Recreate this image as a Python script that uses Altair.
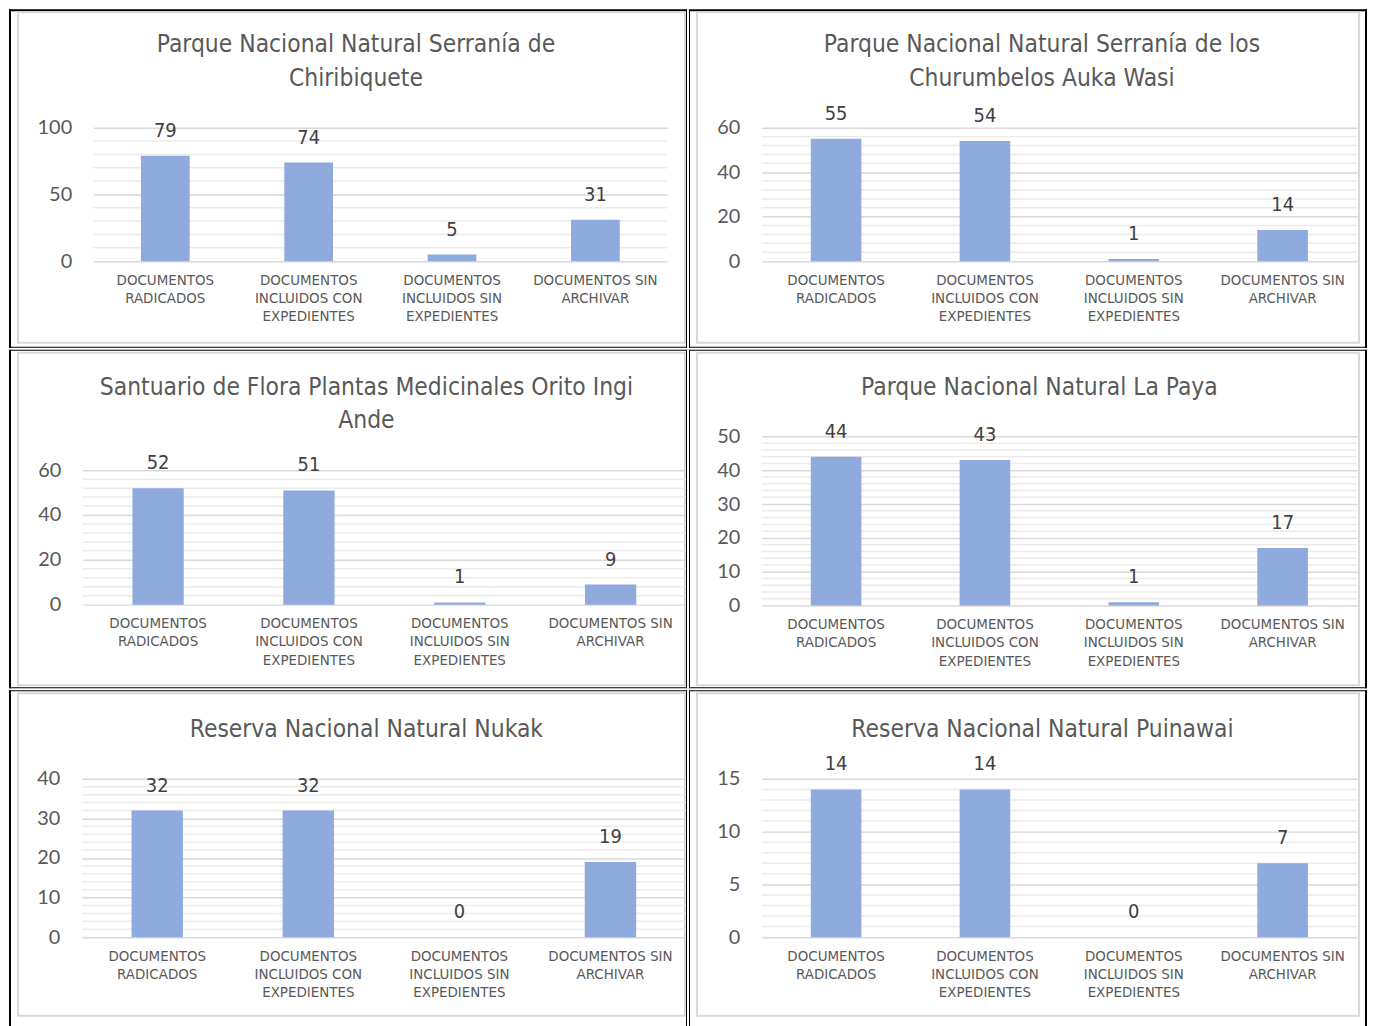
import altair as alt
import pandas as pd

# ---------------- data ----------------
categories = [
    "DOCUMENTOS|RADICADOS",
    "DOCUMENTOS|INCLUIDOS CON|EXPEDIENTES",
    "DOCUMENTOS|INCLUIDOS SIN|EXPEDIENTES",
    "DOCUMENTOS SIN|ARCHIVAR",
]

titles = [
    ["Parque Nacional Natural Serranía de", "Chiribiquete"],
    ["Parque Nacional Natural Serranía de los", "Churumbelos Auka Wasi"],
    ["Santuario de Flora Plantas Medicinales Orito Ingi", "Ande"],
    ["Parque Nacional Natural La Paya"],
    ["Reserva Nacional Natural Nukak"],
    ["Reserva Nacional Natural Puinawai"],
]

chiribiquete = [79, 74, 5, 31]
churumbelos = [55, 54, 1, 14]
orito = [52, 51, 1, 9]
la_paya = [44, 43, 1, 17]
nukak = [32, 32, 0, 19]
puinawai = [14, 14, 0, 7]
series = [chiribiquete, churumbelos, orito, la_paya, nukak, puinawai]

y_max = [100, 60, 60, 50, 40, 15]
major_step = [50, 20, 20, 10, 10, 5]
minor_step = [10, 4, 4, 2, 2, 1]

# ---------------- layout (pixels, relative to each cell) ----------------
CELL_W, CELL_H = 681, 340
plot_left = [85, 73, 74, 73, 73, 73]
plot_top = [119, 119, 121, 87, 89, 89]
plot_w = [576, 598, 606, 598, 607, 598]
plot_h = [134, 134, 135, 170, 159, 159]
title_cx = [348.5, 354.5, 359, 352, 359, 355]
title_cy = [36, 36, 38, 38, 40, 40]
grey_bottom = [335, 335, 337, 337, 327, 327]

TXT = "DejaVu Sans Condensed, DejaVu Sans, sans-serif"
NUM = "Lato, Open Sans, sans-serif"
BAR = "#8FAADC"

one_row = alt.Data(values=[{"k": 0}])


def block(x0, x1, y0, y1, color="black"):
    return alt.Chart(one_row).mark_rect(color=color).encode(
        x=alt.value(x0), x2=alt.value(x1), y=alt.value(y0), y2=alt.value(y1)
    )


def panel(i):
    col = i % 2
    row = i // 2
    L, T, W, H = plot_left[i], plot_top[i], plot_w[i], plot_h[i]
    df = pd.DataFrame({"cat": categories, "value": series[i]})
    maj = major_step[i]
    major_vals = list(range(0, y_max[i] + 1, maj))
    minor_df = pd.DataFrame({
        "value": [v for v in range(0, y_max[i] + 1, minor_step[i]) if v % maj != 0]
    })

    # table borders (filled strips so the cells abut exactly)
    lw = 2 if col == 0 else 1
    rw = 1 if col == 0 else 2
    tw = 2 if row == 0 else 1
    borders = [
        block(0, lw, 0, CELL_H),
        block(CELL_W - rw, CELL_W, 0, CELL_H),
        block(0, CELL_W, 0, tw),
        block(0, CELL_W, CELL_H - 1, CELL_H),
    ]
    gx0, gx1 = (9, 679) if col == 0 else (8, 673)
    grey = alt.Chart(one_row).mark_rect(
        fill="transparent", stroke="#d9d9d9", strokeWidth=2
    ).encode(
        x=alt.value(gx0), x2=alt.value(gx1),
        y=alt.value(3), y2=alt.value(grey_bottom[i]),
    )

    x_enc = alt.X(
        "cat:N", sort=categories,
        scale=alt.Scale(range=[L, L + W], paddingInner=0.66, paddingOuter=0.33),
        axis=alt.Axis(
            title=None, labelAngle=0, domain=False, ticks=False, grid=False,
            offset=-(CELL_H - T - H),
            labelExpr="split(datum.label, '|')", labelLimit=0,
            labelFont=TXT, labelFontSize=15, labelColor="#595959",
            labelLineHeight=18.5, labelPadding=11, labelBaseline="top",
        ),
    )
    y_scale = alt.Scale(domain=[0, y_max[i]], range=[T + H, T], nice=False, zero=True)
    y_enc = alt.Y(
        "value:Q", scale=y_scale,
        axis=alt.Axis(
            title=None, values=major_vals, domain=False, ticks=False,
            offset=-L, labelOverlap=False,
            labelFont=NUM, labelFontSize=20, labelColor="#595959",
            labelPadding=22, gridColor="#d9d9d9", gridWidth=1.5,
        ),
    )
    minor = alt.Chart(minor_df).mark_rule(color="#ebebeb", strokeWidth=1.5).encode(
        y=alt.Y("value:Q"), x=alt.value(L), x2=alt.value(L + W)
    )
    bars = alt.Chart(df).mark_bar(color=BAR).encode(x=x_enc, y=y_enc)
    labels = alt.Chart(df).mark_text(
        font=TXT, fontSize=20, color="#404040", baseline="middle", dy=-25
    ).encode(x=alt.X("cat:N", sort=categories), y="value:Q", text="value:Q")

    title = alt.Chart(one_row).mark_text(
        font=TXT, fontSize=24.5, color="#595959", baseline="middle",
        align="center", lineHeight=34,
    ).encode(
        x=alt.value(title_cx[i]), y=alt.value(title_cy[i]),
        text=alt.value(titles[i]),
    )

    return alt.layer(*borders, grey, minor, bars, labels, title).properties(
        width=CELL_W, height=CELL_H
    )


chart = alt.concat(
    *[panel(i) for i in range(6)], columns=2, spacing=0
).properties(
    padding={"left": 0, "top": -2, "right": 0, "bottom": 0}
).configure_view(stroke="transparent")

chart.save("out.html", embed_options={"renderer": "svg", "actions": False})
